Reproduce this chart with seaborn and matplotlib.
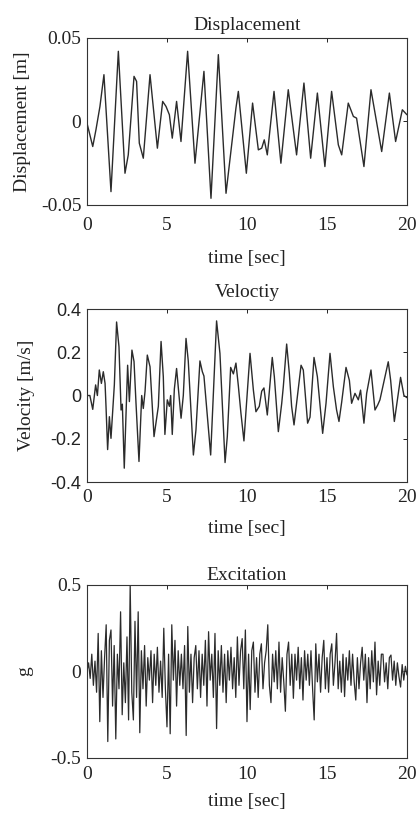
import numpy as np
import seaborn as sns
import matplotlib.pyplot as plt

# displacement [m] (peaks, troughs, shoulders)
disp_t = [0, 0.36, 0.56, 0.81, 1.06, 1.5, 1.96, 2.375, 2.58, 2.94, 3.1, 3.27, 3.52, 3.94,
          4.4, 4.73, 4.94, 5.15, 5.33, 5.6, 5.875, 6.29, 6.75, 7.31, 7.75, 8.21, 8.69, 9.31,
          9.46, 9.96, 10.35, 10.71, 10.92, 11.08, 11.27, 11.69, 12.12, 12.58, 13.1, 13.56,
          13.98, 14.4, 14.87, 15.29, 15.71, 15.92, 16.33, 16.65, 16.85, 17.31, 17.75, 18.42,
          18.9, 19.29, 19.71, 20.0]
disp_v = [-0.001, -0.015, -0.005, 0.009, 0.028, -0.042, 0.042, -0.031, -0.020, 0.027, 0.024,
          -0.013, -0.022, 0.028, -0.016, 0.012, 0.009, 0.004, -0.010, 0.012, -0.012, 0.042,
          -0.025, 0.030, -0.046, 0.040, -0.043, 0.008, 0.018, -0.031, 0.011, -0.017, -0.016,
          -0.011, -0.020, 0.018, -0.025, 0.019, -0.020, 0.023, -0.022, 0.017, -0.027, 0.018,
          -0.014, -0.020, 0.011, 0.003, 0.002, -0.027, 0.019, -0.018, 0.017, -0.012, 0.007, 0.004]

# velocity [m/s]
vel_t = [0, 0.18, 0.36, 0.54, 0.65, 0.77, 0.9, 1.02, 1.13, 1.19,
         1.29, 1.4, 1.5, 1.71, 1.85, 2.0, 2.13, 2.21, 2.33, 2.54,
         2.65, 2.81, 2.94, 3.06, 3.25, 3.42, 3.52, 3.63, 3.77, 3.94,
         4.19, 4.46, 4.63, 4.77, 4.87, 5.02, 5.15, 5.23, 5.33, 5.46,
         5.6, 5.88, 6.02, 6.19, 6.33, 6.65, 6.81, 7.06, 7.21, 7.31,
         7.73, 8.1, 8.31, 8.63, 8.77, 8.98, 9.15, 9.31, 9.46, 9.62,
         9.81, 9.94, 10.19, 10.4, 10.56, 10.77, 10.92, 11.06, 11.27, 11.58,
         11.71, 11.96, 12.17, 12.27, 12.48, 12.65, 12.79, 12.94, 13.1, 13.38,
         13.52, 13.79, 13.94, 14.19, 14.4, 14.73, 14.94, 15.19, 15.4, 15.6,
         15.75, 15.92, 16.19, 16.4, 16.54, 16.75, 16.96, 17.1, 17.31, 17.48,
         17.75, 18.0, 18.17, 18.31, 18.83, 18.98, 19.21, 19.6, 19.81, 20.0]
vel_v = [0.0, 0.0, -0.064, 0.049, 0.0, 0.118, 0.056, 0.11, 0.056, -0.052,
         -0.25, -0.098, -0.198, 0.049, 0.34, 0.225, -0.067, -0.04, -0.336, 0.14,
         -0.028, 0.21, 0.157, -0.03, -0.305, 0.0, -0.06, 0.02, 0.187, 0.133,
         -0.19, -0.05, 0.25, 0.087, -0.18, -0.02, -0.05, 0.0, -0.18, 0.03,
         0.125, -0.105, 0.0, 0.264, 0.16, -0.275, -0.16, 0.16, 0.11, 0.09,
         -0.275, 0.345, 0.195, -0.31, -0.19, 0.13, 0.1, 0.15, 0.045, -0.08,
         -0.21, -0.07, 0.195, 0.025, -0.075, -0.05, 0.02, 0.035, -0.09, 0.176,
         0.087, -0.167, -0.037, 0.04, 0.238, 0.1, -0.05, -0.136, -0.036, 0.14,
         0.118, -0.128, -0.1, 0.176, 0.087, -0.175, -0.036, 0.195, 0.04, -0.067,
         -0.12, -0.03, 0.13, 0.07, -0.036, 0.01, -0.02, 0.025, -0.128, 0.01,
         0.118, -0.067, -0.044, -0.02, 0.156, 0.07, -0.12, 0.084, 0.0, -0.01]

# excitation [g], one value every 0.1 s
exc_v = [0.0, 0.05, -0.04, 0.1, -0.08, 0.06, -0.12, 0.22, -0.29, 0.12,
         -0.15, 0.08, 0.27, -0.405, 0.18, 0.24, -0.2, 0.15, -0.39, 0.1,
         -0.1, 0.345, -0.25, 0.05, -0.18, 0.2, -0.28, 0.5, -0.12, -0.28,
         0.29, -0.15, 0.345, -0.354, 0.12, -0.1, 0.15, -0.2, 0.08, -0.05,
         0.12, -0.18, 0.1, -0.08, 0.14, -0.12, 0.06, -0.15, 0.25, -0.1,
         -0.32, 0.1, -0.36, 0.27, -0.05, 0.18, -0.2, 0.12, -0.08, 0.1,
         -0.1, 0.15, -0.37, 0.26, -0.12, 0.1, -0.18, 0.08, 0.15, -0.1,
         0.12, -0.15, 0.1, -0.08, 0.18, -0.2, 0.23, -0.05, 0.1, -0.15,
         0.22, -0.33, 0.12, -0.08, 0.15, -0.12, 0.1, -0.18, 0.12, -0.05,
         0.14, -0.1, 0.08, -0.15, 0.2, -0.08, 0.12, 0.19, -0.1, 0.24,
         -0.29, 0.1, -0.22, 0.12, 0.17, -0.12, 0.08, -0.15, 0.1, 0.16,
         -0.1, 0.05, 0.12, 0.27, -0.08, -0.18, 0.1, -0.06, 0.12, -0.1,
         0.17, -0.12, 0.08, -0.06, -0.23, 0.1, 0.17, -0.08, 0.1, -0.155,
         0.1, -0.05, 0.14, -0.1, 0.08, -0.165, 0.12, -0.05, 0.1, -0.08,
         0.12, -0.1, -0.28, 0.16, -0.06, 0.1, -0.12, 0.08, 0.18, -0.1,
         0.08, -0.12, 0.1, 0.16, -0.08, 0.05, 0.22, -0.1, 0.06, -0.12,
         0.1, -0.145, 0.08, -0.05, 0.12, -0.08, 0.1, -0.06, -0.165, 0.08,
         -0.1, 0.05, 0.14, -0.05, 0.1, -0.18, 0.08, -0.1, 0.12, -0.06,
         0.17, -0.135, 0.06, -0.08, 0.1, 0.1, -0.06, 0.05, -0.1, 0.08,
         0.095, -0.05, 0.06, -0.08, 0.05, -0.03, -0.09, 0.04, -0.05, 0.03,
         -0.02]
exc_t = np.arange(len(exc_v)) * 0.1

x_ticks = [0, 5, 10, 15, 20]
x_ticklabels = ["0", "5", "10", "15", "20"]

sns.set_style("white")
plt.rcParams["font.family"] = ["Liberation Serif", "DejaVu Serif"]
plt.rcParams["axes.unicode_minus"] = False

fig = plt.figure(figsize=(4.19, 8.16), dpi=100)
line_col = "#2b2b2b"
fs = 14

panels = [
    # rect, x, y, title, ylabel, yticks, yticklabels, lw, title pad, xtick pad, xlabel y, ylabel x, ytick font
    ([0.2076, 0.7488, 0.7637, 0.2047], disp_t, disp_v, "Displacement", "Displacement [m]",
     [-0.05, 0, 0.05], ["-0.05", "0", "0.05"], 1.0, 5.5, 8.5, -0.27, -0.175, "Liberation Serif"),
    ([0.2076, 0.4093, 0.7637, 0.2120], vel_t, vel_v, "Veloctiy", "Velocity [m/s]",
     [-0.4, -0.2, 0, 0.2, 0.4], ["-0.4", "-0.2", "0", "0.2", "0.4"], 1.0, 8.5, 5.0, -0.22, -0.163,
     "Liberation Sans"),
    ([0.2076, 0.0711, 0.7637, 0.2120], exc_t, exc_v, "Excitation", "g",
     [-0.5, 0, 0.5], ["-0.5", "0", "0.5"], 0.9, 3.5, 6.0, -0.20, -0.169, "Liberation Serif"),
]

for rect, xs, ys, title, ylab, yt, ytl, lw, tpad, xpad, xl_y, yl_x, yfont in panels:
    ax = fig.add_axes(rect)
    sns.lineplot(x=xs, y=ys, ax=ax, color=line_col, linewidth=lw, sort=False)
    ax.set_xlim(0, 20)
    ax.set_ylim(yt[0], yt[-1])
    ax.set_xticks(x_ticks)
    ax.set_xticklabels(x_ticklabels)
    ax.set_yticks(yt)
    ax.set_yticklabels(ytl, family=yfont, fontsize=fs if yfont.endswith("Serif") else 13)
    ax.tick_params(direction="in", top=True, right=True, length=3, width=0.7,
                   colors="#222222")
    ax.tick_params(axis="x", pad=xpad, labelsize=fs)
    ax.tick_params(axis="y", pad=4)
    for s in ax.spines.values():
        s.set_color("#333333")
        s.set_linewidth(0.8)
    ax.set_title(title, fontsize=fs, pad=tpad, color="#222222")
    ax.set_xlabel("time [sec]", fontsize=fs, color="#222222")
    ax.set_ylabel(ylab, fontsize=fs, color="#222222")
    ax.xaxis.set_label_coords(0.5, xl_y)
    ax.yaxis.set_label_coords(yl_x, 0.5)

fig.savefig("out.png", dpi=100)
